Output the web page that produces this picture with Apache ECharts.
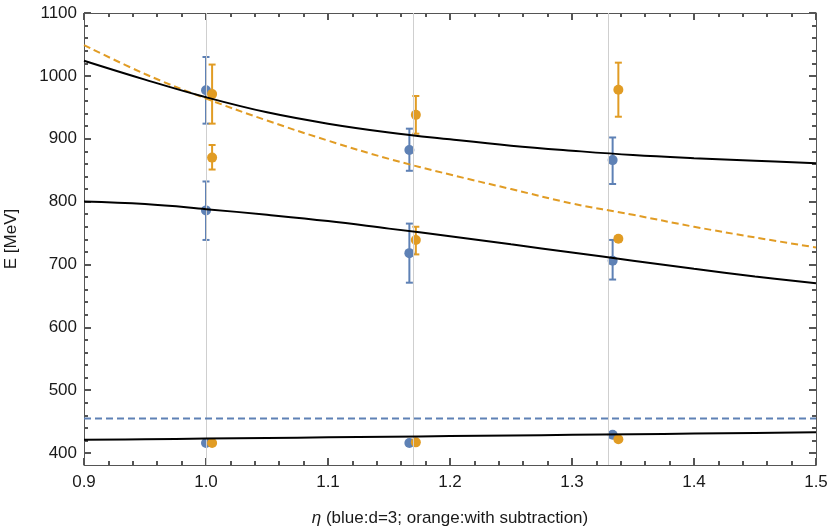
<!DOCTYPE html>
<html>
<head>
<meta charset="utf-8">
<script src="https://cdn.jsdelivr.net/npm/echarts@6/dist/echarts.min.js"></script>
<style>html,body{margin:0;padding:0;background:#fff}#c{width:830px;height:530px}</style>
</head>
<body>
<div id="c"></div>
<script>
// ---- data ----
const etaGrid      = [0.9, 0.95, 1.0, 1.05, 1.1, 1.15, 1.2, 1.25, 1.3, 1.35, 1.4, 1.45, 1.5];
const curveUpper   = [1024, 994, 966, 942, 924, 910, 899, 889, 881, 874, 869, 865, 861];
const curveLower   = [800, 796, 788, 779, 769, 757, 745, 732, 719, 706, 693, 681, 670];
const curveOrange  = [1049, 1003, 964, 929, 897, 868, 843, 820, 797, 779, 760, 743, 727];
const curveGround  = [421, 422, 423, 424, 425, 426, 427, 428, 429, 430, 431, 432, 433];
const blueThreshold = 455;

const gridEta = [1.0, 1.1667, 1.3333];
const blueX   = [1.0, 1.1667, 1.3333];
const orangeX = [1.005, 1.172, 1.338];

const blueL1   = [977, 882, 866];
const blueL1Lo = [924, 849, 828];
const blueL1Hi = [1030, 916, 902];
const blueL2   = [786, 718, 706];
const blueL2Lo = [739, 671, 676];
const blueL2Hi = [832, 765, 739];
const blueG    = [416, 416, 429];

const orangeL1   = [971, 938, 978];
const orangeL1Lo = [924, 908, 935];
const orangeL1Hi = [1018, 968, 1021];
const orangeL2   = [870, 739, 741];
const orangeL2Lo = [851, 716, 737];
const orangeL2Hi = [890, 760, 745];
const orangeG    = [416, 417, 422];

const yTicks = [400, 500, 600, 700, 800, 900, 1000, 1100];
const yMinorTicks = [];
for (let v = 400; v <= 1100; v += 20) if (v % 100 !== 0) yMinorTicks.push(v);

// ---- styles ----
const BLUE = '#5E81B5', ORANGE = '#E19C24';
const FONT = 'Liberation Sans';
const FRAME = '#555';
const TXT = '#1a1a1a';
const xMin = 0.9, xMax = 1.5, yMin = 381, yMax = 1100;

const pairs = (xs, ys) => xs.map((x, i) => [x, ys[i]]);
const errData = (xs, lo, hi) => xs.map((x, i) => [x, lo[i], hi[i]]);

function errSeries(xs, lo, hi, color) {
  return {
    type: 'custom', xAxisIndex: 0, yAxisIndex: 0, z: 3,
    data: errData(xs, lo, hi),
    renderItem: function (params, api) {
      const x = api.value(0);
      const p1 = api.coord([x, api.value(1)]);
      const p2 = api.coord([x, api.value(2)]);
      const w = 3.5;
      const st = { stroke: color, lineWidth: 2 };
      return { type: 'group', children: [
        { type: 'line', shape: { x1: p1[0], y1: p1[1], x2: p2[0], y2: p2[1] }, style: st },
        { type: 'line', shape: { x1: p1[0]-w, y1: p1[1], x2: p1[0]+w, y2: p1[1] }, style: st },
        { type: 'line', shape: { x1: p2[0]-w, y1: p2[1], x2: p2[0]+w, y2: p2[1] }, style: st }
      ]};
    }
  };
}
function pts(xs, ys, color) {
  return { type: 'scatter', xAxisIndex: 0, yAxisIndex: 0, z: 4, symbol: 'circle', symbolSize: 10,
    itemStyle: { color: color, opacity: 1 }, data: pairs(xs, ys) };
}
function curve(ys, color, dashed) {
  return { type: 'line', xAxisIndex: 0, yAxisIndex: 0, z: 5, smooth: 0.4, showSymbol: false, symbol: 'none',
    lineStyle: { color: color, width: 2, type: dashed ? [7, 4] : 'solid' },
    data: pairs(etaGrid, ys) };
}

function majorTick(vals) {
  const t = { show: true, inside: true, length: 7, lineStyle: { color: FRAME, width: 2 } };
  if (vals) t.customValues = vals;
  return t;
}
function minorTickY(vals) {
  return { show: true, inside: true, length: 4, customValues: vals, lineStyle: { color: FRAME, width: 2 } };
}
function minorTickX() {
  return { show: true, splitNumber: 5, length: 4, lineStyle: { color: FRAME, width: 2 } };
}
function frameLine() { return { show: true, onZero: false, lineStyle: { color: FRAME, width: 1 } }; }

const option = {
  animation: false,
  grid: { left: 84, right: 14, top: 13, bottom: 65, outerBoundsMode: 'none' },
  xAxis: [
    { type: 'value', min: xMin, max: xMax, interval: 0.1, position: 'bottom',
      name: '{i|η} (blue:d=3; orange:with subtraction)', nameLocation: 'middle', nameGap: 45,
      nameTextStyle: { fontFamily: FONT, fontSize: 17, color: TXT,
        rich: { i: { fontFamily: FONT, fontStyle: 'italic', fontSize: 17, color: TXT } } },
      axisLine: frameLine(), axisTick: majorTick(), minorTick: minorTickX(),
      splitLine: { show: false },
      axisLabel: { fontFamily: FONT, fontSize: 17, color: TXT, margin: 9, formatter: v => v.toFixed(1) } },
    { type: 'value', min: xMin, max: xMax, interval: 0.1, position: 'top',
      axisLine: frameLine(), axisTick: majorTick(), minorTick: minorTickX(),
      splitLine: { show: false }, axisLabel: { show: false } }
  ],
  yAxis: [
    { type: 'value', min: yMin, max: yMax, position: 'left',
      name: 'E [MeV]', nameLocation: 'middle', nameGap: 64, nameRotate: 90,
      nameTextStyle: { fontFamily: FONT, fontSize: 17, color: TXT },
      axisLine: frameLine(), axisTick: majorTick(yTicks), splitLine: { show: false },
      axisLabel: { fontFamily: FONT, fontSize: 17, color: TXT, margin: 7, customValues: yTicks,
        formatter: v => String(Math.round(v)) } },
    { type: 'value', min: yMin, max: yMax, position: 'left',
      axisLine: { show: false }, axisTick: minorTickY(yMinorTicks), splitLine: { show: false },
      axisLabel: { show: false, customValues: yMinorTicks } },
    { type: 'value', min: yMin, max: yMax, position: 'right',
      axisLine: frameLine(), axisTick: majorTick(yTicks), splitLine: { show: false },
      axisLabel: { show: false, customValues: yTicks } },
    { type: 'value', min: yMin, max: yMax, position: 'right',
      axisLine: { show: false }, axisTick: minorTickY(yMinorTicks), splitLine: { show: false },
      axisLabel: { show: false, customValues: yMinorTicks } }
  ],
  series: [
    { type: 'line', xAxisIndex: 0, yAxisIndex: 0, data: [], z: 1, silent: true,
      markLine: { silent: true, symbol: 'none', label: { show: false },
        lineStyle: { color: '#cfcfcf', width: 1, type: 'solid' },
        data: gridEta.map(v => ({ xAxis: v })) } },
    curve(curveOrange, ORANGE, true),
    { type: 'line', xAxisIndex: 0, yAxisIndex: 0, z: 5, showSymbol: false, symbol: 'none',
      lineStyle: { color: BLUE, width: 2, type: [7, 4] },
      data: [[xMin, blueThreshold], [xMax, blueThreshold]] },
    errSeries(blueX, blueL1Lo, blueL1Hi, BLUE),
    errSeries(blueX, blueL2Lo, blueL2Hi, BLUE),
    errSeries(orangeX, orangeL1Lo, orangeL1Hi, ORANGE),
    errSeries(orangeX, orangeL2Lo, orangeL2Hi, ORANGE),
    pts(blueX, blueL1, BLUE),
    pts(blueX, blueL2, BLUE),
    pts(blueX, blueG, BLUE),
    pts(orangeX, orangeL1, ORANGE),
    pts(orangeX, orangeL2, ORANGE),
    pts(orangeX, orangeG, ORANGE),
    curve(curveUpper, '#000', false),
    curve(curveLower, '#000', false),
    curve(curveGround, '#000', false)
  ]
};
echarts.init(document.getElementById('c'), null, { renderer: 'canvas' }).setOption(option);
</script>
</body>
</html>
